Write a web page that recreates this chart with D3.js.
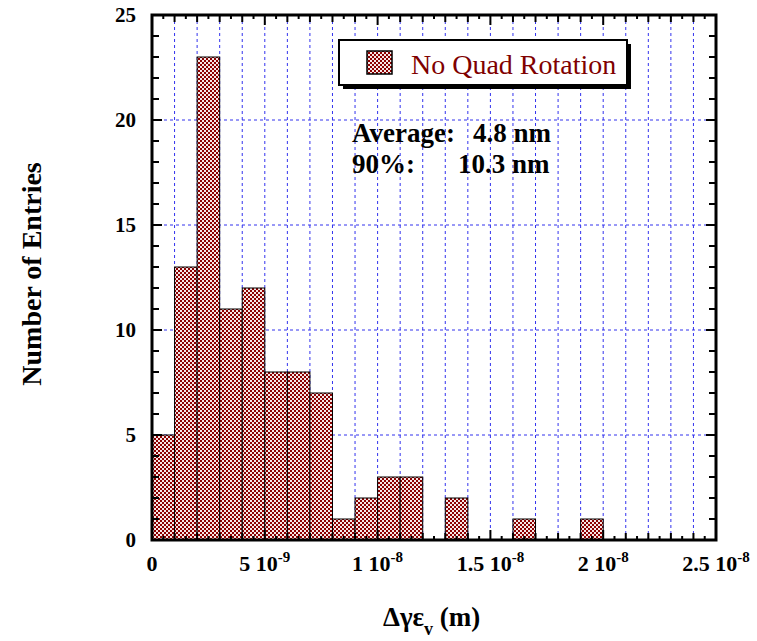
<!DOCTYPE html>
<html>
<head>
<meta charset="utf-8">
<script src="https://cdn.jsdelivr.net/npm/d3@7"></script>
<style>
body { margin: 0; background: #fff; }
text { font-family: "Liberation Serif", "Times New Roman", serif; }
</style>
</head>
<body>
<svg id="chart" width="757" height="641"></svg>
<script>
// histogram bins (lower edge, metres) and counts
let binStart = [0, 1e-9, 2e-9, 3e-9, 4e-9, 5e-9, 6e-9, 7e-9, 8e-9, 9e-9, 10e-9, 11e-9, 12e-9, 13e-9, 14e-9, 15e-9, 16e-9, 17e-9, 18e-9, 19e-9];
let counts = [5, 13, 23, 11, 12, 8, 8, 7, 1, 2, 3, 3, 0, 2, 0, 0, 1, 0, 0, 1];
let binWidth = 1e-9;

let xTickValues = [0, 5e-9, 1e-8, 1.5e-8, 2e-8, 2.5e-8];
let xTickMant = ["0", "5 10", "1 10", "1.5 10", "2 10", "2.5 10"];
let xTickExp = ["", "-9", "-8", "-8", "-8", "-8"];
let yTickValues = [0, 5, 10, 15, 20, 25];

let legendLabel = "No Quad Rotation";
let statLabels = ["Average:", "90%:"];
let statValues = ["4.8 nm", "10.3 nm"];

let svg = d3.select("#chart");
let x = d3.scaleLinear().domain([0, 2.5e-8]).range([152, 716]);
let y = d3.scaleLinear().domain([0, 25]).range([540, 15]);

let defs = svg.append("defs");
let pat = defs.append("pattern")
	.attr("id", "check")
	.attr("patternUnits", "userSpaceOnUse")
	.attr("width", 4).attr("height", 4);
pat.append("rect").attr("width", 4).attr("height", 4).attr("fill", "#f6e6e6");
pat.append("rect").attr("width", 2).attr("height", 2).attr("fill", "#8c0000");
pat.append("rect").attr("x", 2).attr("y", 2).attr("width", 2).attr("height", 2).attr("fill", "#8c0000");

// grid
let gridX = d3.range(1, 25).map((i) => i * 1e-9);
svg.append("g").selectAll("line").data(gridX).enter().append("line")
	.attr("x1", (d) => x(d)).attr("x2", (d) => x(d))
	.attr("y1", y(25)).attr("y2", y(0))
	.attr("stroke", "#3333ee").attr("stroke-width", 1).attr("stroke-dasharray", "3,3");
svg.append("g").selectAll("line").data([5, 10, 15, 20]).enter().append("line")
	.attr("x1", x(0)).attr("x2", x(2.5e-8))
	.attr("y1", (d) => y(d)).attr("y2", (d) => y(d))
	.attr("stroke", "#3333ee").attr("stroke-width", 1).attr("stroke-dasharray", "3,3");

// bars
let bars = svg.append("g");
counts.forEach((c, i) => {
	if (c == 0) return;
	bars.append("rect")
		.attr("x", x(binStart[i]))
		.attr("y", y(c))
		.attr("width", x(binStart[i] + binWidth) - x(binStart[i]))
		.attr("height", y(0) - y(c))
		.attr("fill", "url(#check)")
		.attr("stroke", "#000").attr("stroke-width", 1);
});

// ticks
let ticks = svg.append("g").attr("stroke", "#000").attr("stroke-width", 2);
d3.range(1, 50).forEach((i) => {
	let v = i * 0.5e-9;
	let len = (i % 10 == 0) ? 10 : (i % 2 == 0 ? 7 : 4);
	ticks.append("line").attr("x1", x(v)).attr("x2", x(v)).attr("y1", y(0)).attr("y2", y(0) - len);
	ticks.append("line").attr("x1", x(v)).attr("x2", x(v)).attr("y1", y(25)).attr("y2", y(25) + len);
});
d3.range(1, 25).forEach((i) => {
	let len = (i % 5 == 0) ? 10 : 7;
	ticks.append("line").attr("x1", x(0)).attr("x2", x(0) + len).attr("y1", y(i)).attr("y2", y(i));
	ticks.append("line").attr("x1", x(2.5e-8)).attr("x2", x(2.5e-8) - len).attr("y1", y(i)).attr("y2", y(i));
});

// frame
svg.append("rect")
	.attr("x", x(0)).attr("y", y(25))
	.attr("width", x(2.5e-8) - x(0)).attr("height", y(0) - y(25))
	.attr("fill", "none").attr("stroke", "#000").attr("stroke-width", 3);

// tick labels
svg.append("g").selectAll("text").data(yTickValues).enter().append("text")
	.attr("x", 136).attr("y", (d) => y(d) + 7)
	.attr("text-anchor", "end")
	.attr("font-size", 21).attr("font-weight", "bold")
	.text((d) => d);

let xl = svg.append("g").selectAll("text").data(xTickValues).enter().append("text")
	.attr("x", (d) => x(d)).attr("y", 571)
	.attr("text-anchor", "middle")
	.attr("font-size", 22).attr("font-weight", "bold");
xl.append("tspan").text((d, i) => xTickMant[i]);
xl.append("tspan").attr("font-size", 15).attr("dy", -9).text((d, i) => xTickExp[i]);

// axis titles
svg.append("text")
	.attr("transform", "translate(41,274) rotate(-90)")
	.attr("text-anchor", "middle")
	.attr("font-size", 28).attr("font-weight", "bold")
	.text("Number of Entries");

let xt = svg.append("text")
	.attr("x", 383).attr("y", 626)
	.attr("font-size", 27).attr("font-weight", "bold");
xt.append("tspan").text("Δγε");
xt.append("tspan").attr("font-size", 18).attr("dy", 9).text("v");
xt.append("tspan").attr("dy", -9).text(" (m)");

// legend
let lg = svg.append("g");
lg.append("rect").attr("x", 343).attr("y", 44).attr("width", 288).attr("height", 45).attr("fill", "#000");
lg.append("rect").attr("x", 339).attr("y", 40).attr("width", 288).attr("height", 45)
	.attr("fill", "#fff").attr("stroke", "#000").attr("stroke-width", 2);
lg.append("rect").attr("x", 367).attr("y", 51).attr("width", 25).attr("height", 23)
	.attr("fill", "url(#check)").attr("stroke", "#000").attr("stroke-width", 1.5);
lg.append("text").attr("x", 411).attr("y", 74)
	.attr("font-size", 28).attr("fill", "#7f0000")
	.text(legendLabel);

// stats
let statY = [142, 173];
let statX = [473, 458];
statLabels.forEach((s, i) => {
	svg.append("text").attr("x", 352).attr("y", statY[i])
		.attr("font-size", 27).attr("font-weight", "bold").text(s);
	svg.append("text").attr("x", statX[i]).attr("y", statY[i])
		.attr("font-size", 27).attr("font-weight", "bold").text(statValues[i]);
});
</script>
</body>
</html>
